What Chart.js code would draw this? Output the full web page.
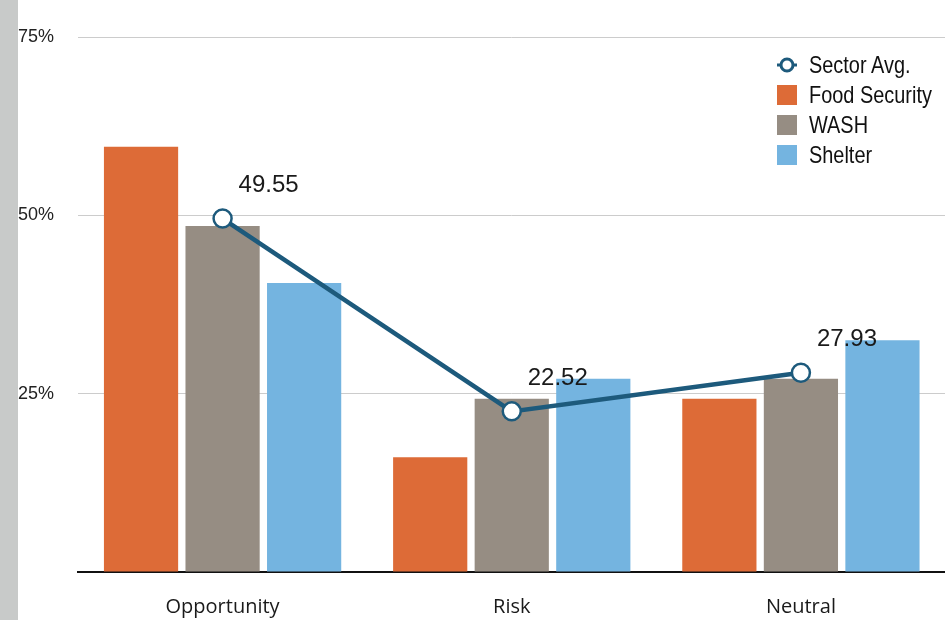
<!DOCTYPE html>
<html>
<head>
<meta charset="utf-8">
<script src="https://cdn.jsdelivr.net/npm/chart.js@4"></script>
<style>
  html, body { margin: 0; padding: 0; background: #fff; }
  .wrap { position: relative; width: 945px; height: 620px; overflow: hidden; }
  .strip { position: absolute; left: 0; top: 0; width: 18px; height: 620px; background: #c8cac9; z-index: 2; }
  .box { position: absolute; left: 18px; top: 0; width: 939px; height: 620px; }
  .legend { position: absolute; left: 777px; top: 50px; font-family: "Liberation Sans", Arial, sans-serif; font-size: 24px; color: #111; white-space: nowrap; }
  .legend div { height: 30px; line-height: 30px; display: flex; align-items: center; }
  .legend .sw { width: 20px; height: 20px; margin-right: 12px; display: inline-block; flex: none; }
  .legend svg { margin-right: 12px; flex: none; }
  .legend .tx { display: inline-block; transform: scaleX(0.83); transform-origin: left center; }
</style>
</head>
<body>
<div class="wrap">
  <div class="strip"></div>
  <div class="box"><canvas id="myChart" width="939" height="620"></canvas></div>
  <div class="legend">
    <div><svg width="20" height="20"><line x1="0" y1="10" x2="20" y2="10" stroke="#1d5a7c" stroke-width="3"/><circle cx="10" cy="10" r="6" fill="#fff" stroke="#1d5a7c" stroke-width="3"/></svg><span class="tx">Sector Avg.</span></div>
    <div><span class="sw" style="background:#dd6b37"></span><span class="tx">Food Security</span></div>
    <div><span class="sw" style="background:#968d83"></span><span class="tx">WASH</span></div>
    <div><span class="sw" style="background:#74b4e0"></span><span class="tx">Shelter</span></div>
  </div>
</div>
<script>
// data
const categories = ["Opportunity", "Risk", "Neutral"];
const foodSecurity = [59.6, 16.1, 24.3];
const wash = [48.5, 24.3, 27.1];
const shelter = [40.5, 27.1, 32.5];
const sectorAvg = [49.55, 22.52, 27.93];
const yTicks = [25, 50, 75];

// labels next to line points
const pointLabels = {
  id: "pointLabels",
  afterDatasetsDraw(chart) {
    const meta = chart.getDatasetMeta(0);
    const ctx = chart.ctx;
    ctx.save();
    ctx.font = "24px 'Liberation Sans', Arial, sans-serif";
    ctx.fillStyle = "#1a1a1a";
    ctx.textAlign = "left";
    ctx.textBaseline = "middle";
    meta.data.forEach(function (pt, i) {
      ctx.fillText(sectorAvg[i].toFixed(2), pt.x + 16, pt.y - 33);
    });
    ctx.restore();
  }
};

const data = {
  labels: categories,
  datasets: [
    {
      type: "line",
      label: "Sector Avg.",
      data: sectorAvg,
      borderColor: "#1d5a7c",
      borderWidth: 4.5,
      pointRadius: 9,
      pointBorderWidth: 2.5,
      pointBackgroundColor: "#fff",
      pointBorderColor: "#1d5a7c",
      order: 0,
    },
    { label: "Food Security", data: foodSecurity, backgroundColor: "#dd6b37", order: 1 },
    { label: "WASH", data: wash, backgroundColor: "#968d83", order: 1 },
    { label: "Shelter", data: shelter, backgroundColor: "#74b4e0", order: 1 },
  ],
};

const config = {
  type: "bar",
  data,
  options: {
    responsive: false,
    animation: false,
    layout: { padding: { top: 37, right: 0, bottom: 0, left: 0 } },
    datasets: { bar: { barPercentage: 0.91, categoryPercentage: 0.846 } },
    scales: {
      y: {
        min: 0,
        max: 75,
        afterBuildTicks: function (axis) {
          axis.ticks = [0].concat(yTicks).map(function (v) { return { value: v }; });
        },
        afterFit: function (axis) { axis.width = 60; },
        grid: { color: "#cccccc", lineWidth: 1, drawTicks: false },
        border: { display: false },
        ticks: {
          crossAlign: "far",
          padding: 0,
          color: "#222",
          font: { family: "'Liberation Sans', Arial, sans-serif", size: 18 },
          callback: function (v) { return v === 0 ? "" : v + "%"; },
        },
      },
      x: {
        grid: { display: false },
        border: { display: true, color: "#111", width: 2 },
        afterFit: function (axis) { axis.height = 48; },
        ticks: {
          padding: 15,
          color: "#1a1a1a",
          font: { family: "'Open Sans', 'Noto Sans', sans-serif", size: 20 },
        },
      },
    },
    plugins: {
      legend: { display: false },
      tooltip: { enabled: false },
    },
  },
  plugins: [pointLabels],
};

var ctx = document.getElementById("myChart").getContext("2d");
var myChart = new Chart(ctx, config);
</script>
</body>
</html>
